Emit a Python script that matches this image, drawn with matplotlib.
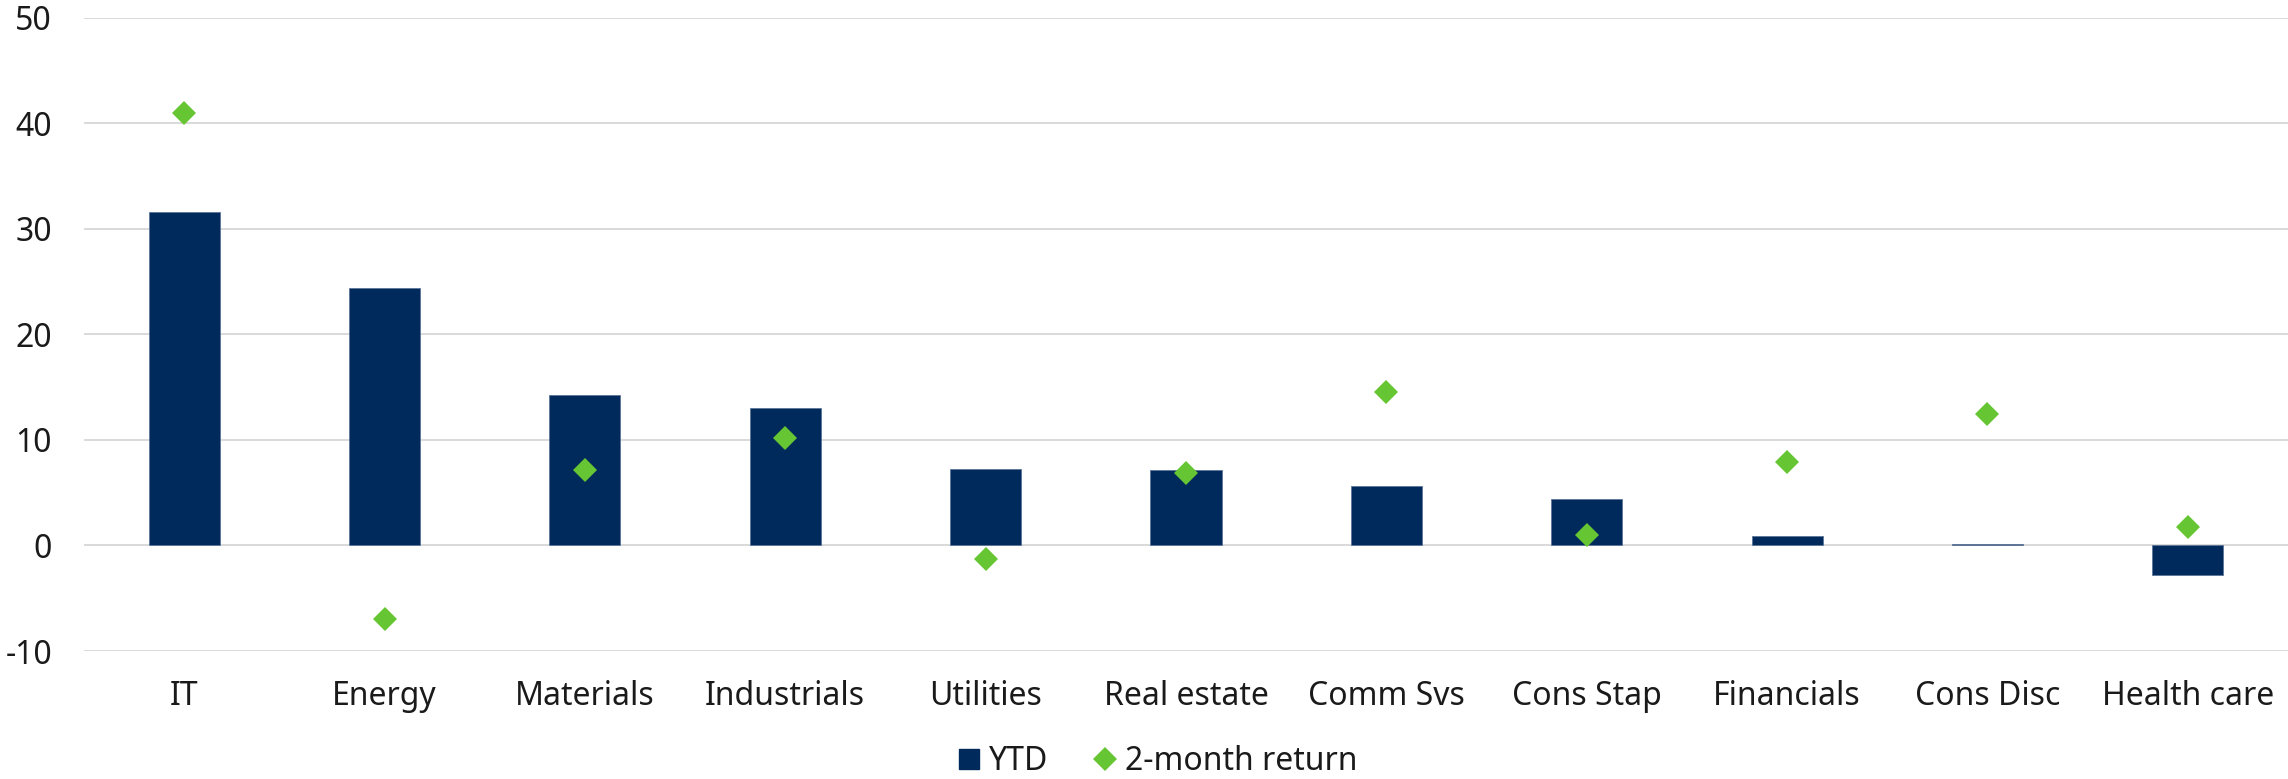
import matplotlib
matplotlib.use("Agg")
import matplotlib.pyplot as plt
import numpy as np
from matplotlib.lines import Line2D

categories = ["IT", "Energy", "Materials", "Industrials", "Utilities", "Real estate",
              "Comm Svs", "Cons Stap", "Financials", "Cons Disc", "Health care"]
ytd = [31.6, 24.4, 14.2, 13.0, 7.2, 7.1, 5.6, 4.4, 0.9, 0.1, -2.8]
two_month = [41.0, -7.0, 7.1, 10.2, -1.3, 6.9, 14.5, 1.0, 7.9, 12.4, 1.7]
yticks = [-10, 0, 10, 20, 30, 40, 50]

NAVY = "#00295C"
GREEN = "#66C532"
GRID = "#D9D9D9"
TXT = "#1A1A1A"

plt.rcParams['font.family'] = ['Noto Sans', 'DejaVu Sans']

fig = plt.figure(figsize=(22.88, 7.79), dpi=100)
ax = fig.add_axes([84/2288, 1-651/779, 1-84/2288, (651-17.5)/779])

x = np.arange(len(categories))
ax.bar(x, ytd, width=0.355, color=NAVY, edgecolor="#5C7699", linewidth=0.6, zorder=2)
ax.plot(x, two_month, linestyle="none", marker="D", ms=12.5, color=GREEN,
        markeredgewidth=0, zorder=3)

ax.set_xlim(-0.5, len(categories)-0.5)
ax.set_ylim(-10, 50)
ax.set_yticks(yticks)
ax.set_yticklabels([str(v) for v in yticks])
ax.set_xticks(x)
ax.set_xticklabels(categories)
ax.yaxis.grid(True, color=GRID, linewidth=1.4, zorder=0)
ax.set_axisbelow(True)
for s in ax.spines.values():
    s.set_visible(False)
ax.tick_params(axis="y", length=0, pad=23, labelsize=23, labelcolor=TXT)
ax.tick_params(axis="x", length=0, pad=21, labelsize=23, labelcolor=TXT)

handles = [Line2D([], [], linestyle="none", marker="s", ms=15, color=NAVY),
           Line2D([], [], linestyle="none", marker="D", ms=12.5, color=GREEN, markeredgewidth=0)]
fig.legend(handles, ["YTD", "2-month return"], loc="center", bbox_to_anchor=(0.506, 1-762/779),
           ncol=2, frameon=False, fontsize=23, handlelength=0.7, handletextpad=0.3,
           columnspacing=1.4, labelcolor=TXT)

fig.savefig("out.png", dpi=100)
